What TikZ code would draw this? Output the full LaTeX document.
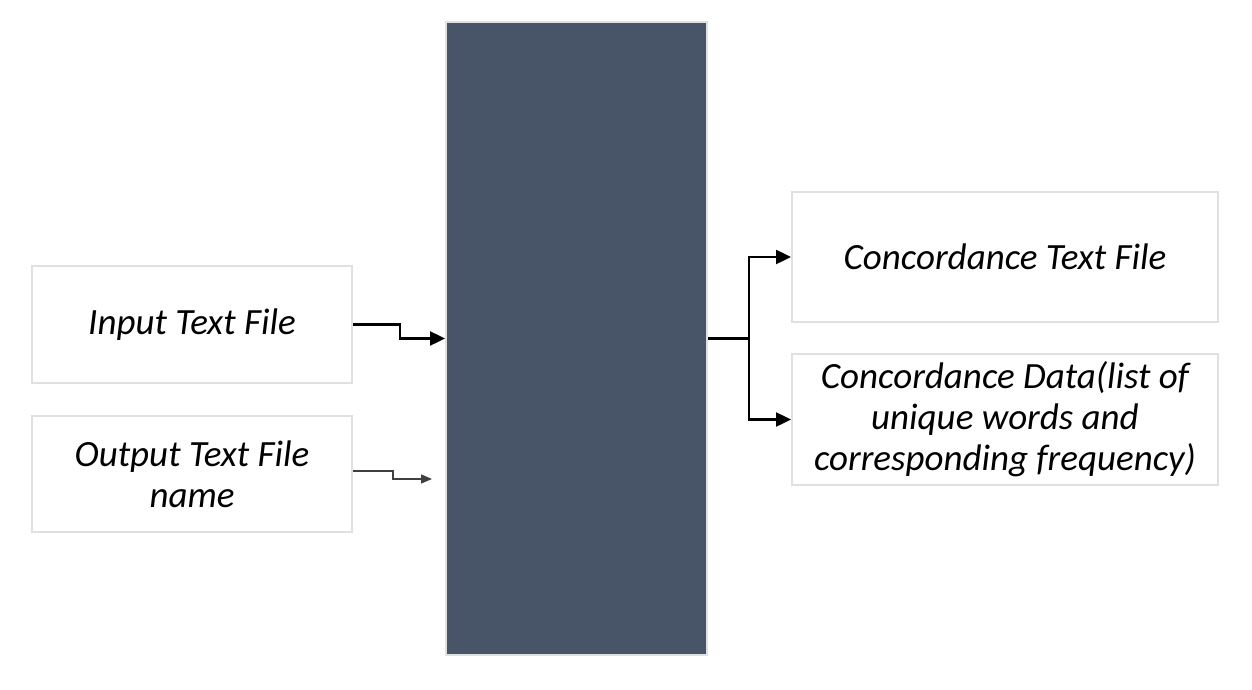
\documentclass[tikz,border=0pt]{standalone}
\usepackage{fontspec}
\setmainfont{Carlito}
\usetikzlibrary{arrows.meta}

\begin{document}
\begin{tikzpicture}[x=1pt, y=-1pt]
    \tikzstyle{filebox} = [rectangle, draw=black!12, line width=2pt, fill=white, text centered, align=center, font=\fontsize{37}{41}\selectfont\itshape]
    \tikzstyle{arrow} = [line width=2.4pt, -{Triangle[length=15pt, width=14pt]}]
    \useasboundingbox (0,0) rectangle (1252,690);
    \node[rectangle, minimum width=261pt, minimum height=633pt, draw=black!12, line width=2pt, fill={rgb,255:red,72;green,84;blue,103}](proc) at (576.5,338.5){};
    \node[filebox, minimum width=320pt, minimum height=117pt](inp) at (192,324.5){Input Text File};
    \node[filebox, minimum width=320pt, minimum height=116pt](outp) at (192,474){Output Text File\\name};
    \node[filebox, minimum width=426pt, minimum height=130pt](ctf) at (1005,257){Concordance Text File};
    \node[filebox, minimum width=426pt, minimum height=131pt](cdata) at (1005,419.5){Concordance Data(list of\\unique words and\\corresponding frequency)};
    \coordinate (outend) at (432,479);
    \coordinate (fork) at (749,338.5);
    \draw[arrow] (inp.east) -- ++(47,0) |- (proc.west);
    \draw[line width=1.3pt, black!75, -{Triangle[length=11pt, width=9pt]}] ([yshift=3pt]outp.east) -- ++(40,0) |- (outend);
    \draw[line width=2.4pt] (proc.east) -- (fork);
    \draw[arrow] (fork) |- (ctf.west);
    \draw[arrow] (fork) |- (cdata.west);
\end{tikzpicture}
\end{document}
